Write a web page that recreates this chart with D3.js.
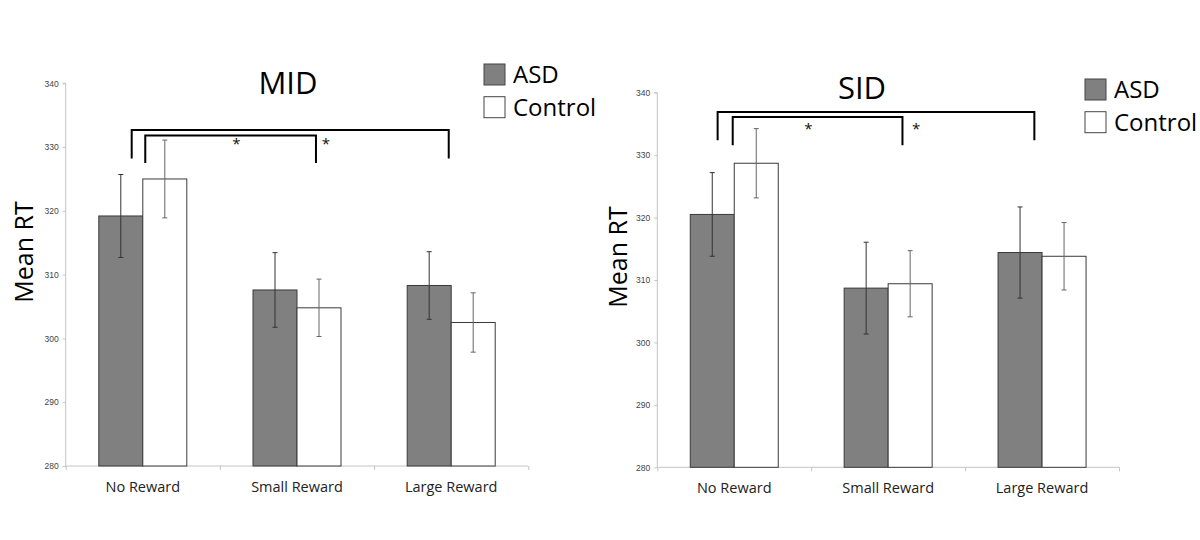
<!DOCTYPE html>
<html><head><meta charset="utf-8">
<script src="https://cdn.jsdelivr.net/npm/d3@7"></script>
<style>
body{margin:0;background:#fff;}
svg{display:block;font-family:"Open Sans","Liberation Sans",sans-serif;}
</style></head>
<body><svg id="c" width="1200" height="540"></svg>
<script>
const categories = ["No Reward","Small Reward","Large Reward"];
const groups = ["ASD","Control"];
const yTicks = [280,290,300,310,320,330,340];

const midASD = [319.2, 307.6, 308.3];
const midASDErr = [6.5, 5.85, 5.3];
const midControl = [325.0, 304.8, 302.5];
const midControlErr = [6.1, 4.5, 4.65];

const sidASD = [320.5, 308.7, 314.4];
const sidASDErr = [6.7, 7.35, 7.3];
const sidControl = [328.7, 309.4, 313.8];
const sidControlErr = [5.55, 5.3, 5.4];

// brackets: [leftPos, rightPos, topValue, legBottomValue] positions in category units
const midBrackets = [[0.428, 2.484, 332.66, 328.2],[0.516, 1.623, 331.8, 327.5]];
const sidBrackets = [[0.392, 2.45, 336.9, 332.4],[0.49, 1.593, 336.1, 331.6]];
const midStars = [[1.107, 330.6],[1.688, 330.6]];
const sidStars = [[0.982, 334.3],[1.682, 334.3]];

const svg = d3.select("#c");

function panel(cfg){
  const g = svg.append("g");
  const x = d3.scaleBand().domain(categories).range([cfg.x0, cfg.x1]).paddingInner(0).paddingOuter(0);
  const xs = d3.scaleLinear().domain([0,3]).range([cfg.x0, cfg.x1]);
  const y = d3.scaleLinear().domain([280,340]).range([cfg.yb, cfg.yt]);
  const bw = 44;
  const gx = d3.scaleBand().domain(groups).range([-bw, bw]);
  const fills = {ASD:"#808080", Control:"#ffffff"};
  const series = {ASD:[cfg.asd,cfg.asdErr], Control:[cfg.ctl,cfg.ctlErr]};

  const ya = g.append("g").attr("transform",`translate(${cfg.x0},0)`)
    .call(d3.axisLeft(y).tickValues(yTicks).tickSize(3).tickPadding(4));
  ya.select(".domain").attr("stroke","#c4c4c4").attr("d",`M-3,${cfg.yt}H0V${cfg.yb}`);
  ya.selectAll(".tick line").attr("stroke","#c4c4c4");
  ya.selectAll(".tick text").attr("fill","#444").style("font-size","8.5px");

  const xa = g.append("g").attr("transform",`translate(0,${cfg.yb})`)
    .call(d3.axisBottom(xs).tickValues([0,1,2,3]).tickSize(4).tickFormat(""));
  xa.select(".domain").attr("stroke","#c4c4c4").attr("d",`M${cfg.x0},0H${cfg.x1}`);
  xa.selectAll(".tick line").attr("stroke","#c4c4c4");

  g.selectAll(".cat").data(categories).enter().append("text")
    .attr("x", d=>x(d)+x.bandwidth()/2).attr("y", cfg.yb+26)
    .attr("text-anchor","middle").attr("fill","#222").style("font-size","14.5px").text(d=>d);

  groups.forEach(gr=>{
    const [vals, errs] = series[gr];
    categories.forEach((c,i)=>{
      const cx = x(c)+x.bandwidth()/2;
      g.append("rect").attr("x", cx+gx(gr)).attr("width", gx.bandwidth())
        .attr("y", y(vals[i])).attr("height", y(280)-y(vals[i]))
        .attr("fill", fills[gr]).attr("stroke","#3a3a3a").attr("stroke-width",1);
    });
    categories.forEach((c,i)=>{
      const ex = x(c)+x.bandwidth()/2+gx(gr)+gx.bandwidth()/2;
      const hi = y(vals[i]+errs[i]), lo = y(vals[i]-errs[i]);
      const col = gr==="ASD" ? "#333" : "#666";
      g.append("line").attr("x1",ex).attr("x2",ex).attr("y1",hi).attr("y2",lo).attr("stroke",col).attr("stroke-width",1);
      [hi,lo].forEach(yy=>g.append("line").attr("x1",ex-2.5).attr("x2",ex+2.5).attr("y1",yy).attr("y2",yy).attr("stroke",col).attr("stroke-width",1));
    });
  });

  cfg.brackets.forEach(b=>{
    g.append("path").attr("d",`M${xs(b[0])},${y(b[3])}V${y(b[2])}H${xs(b[1])}V${y(b[3])}`)
      .attr("fill","none").attr("stroke","#000").attr("stroke-width",2);
  });
  cfg.stars.forEach(s=>{
    g.append("text").attr("x",xs(s[0])).attr("y",y(s[1])+6).attr("text-anchor","middle")
      .style("font-size","15px").attr("fill","#111").text("*");
  });

  g.append("text").attr("x",cfg.titleX).attr("y",cfg.titleY).attr("text-anchor","middle")
    .style("font-size","31px").attr("fill","#000").text(cfg.title);

  g.append("text").attr("transform",`translate(${cfg.ylabX},${cfg.ylabY}) rotate(-90)`)
    .attr("text-anchor","middle").style("font-size","25px").attr("fill","#000").text("Mean RT");

  groups.forEach((gr,i)=>{
    const ly = cfg.legY + i*32.7;
    g.append("rect").attr("x",cfg.legX).attr("y",ly).attr("width",21).attr("height",21)
      .attr("fill",fills[gr]).attr("stroke","#444").attr("stroke-width",1);
    g.append("text").attr("x",cfg.legX+29).attr("y",ly+19).style("font-size","24px").attr("fill","#000").text(gr);
  });
}

panel({x0:65.7, x1:528.3, yb:466, yt:83.3, asd:midASD, asdErr:midASDErr, ctl:midControl, ctlErr:midControlErr,
  brackets:midBrackets, stars:midStars, title:"MID", titleX:288, titleY:93.5, ylabX:33, ylabY:252, legX:484, legY:64});
panel({x0:657.3, x1:1119, yb:467.3, yt:92.7, asd:sidASD, asdErr:sidASDErr, ctl:sidControl, ctlErr:sidControlErr,
  brackets:sidBrackets, stars:sidStars, title:"SID", titleX:862, titleY:99, ylabX:627, ylabY:257, legX:1085, legY:79});
</script></body></html>
